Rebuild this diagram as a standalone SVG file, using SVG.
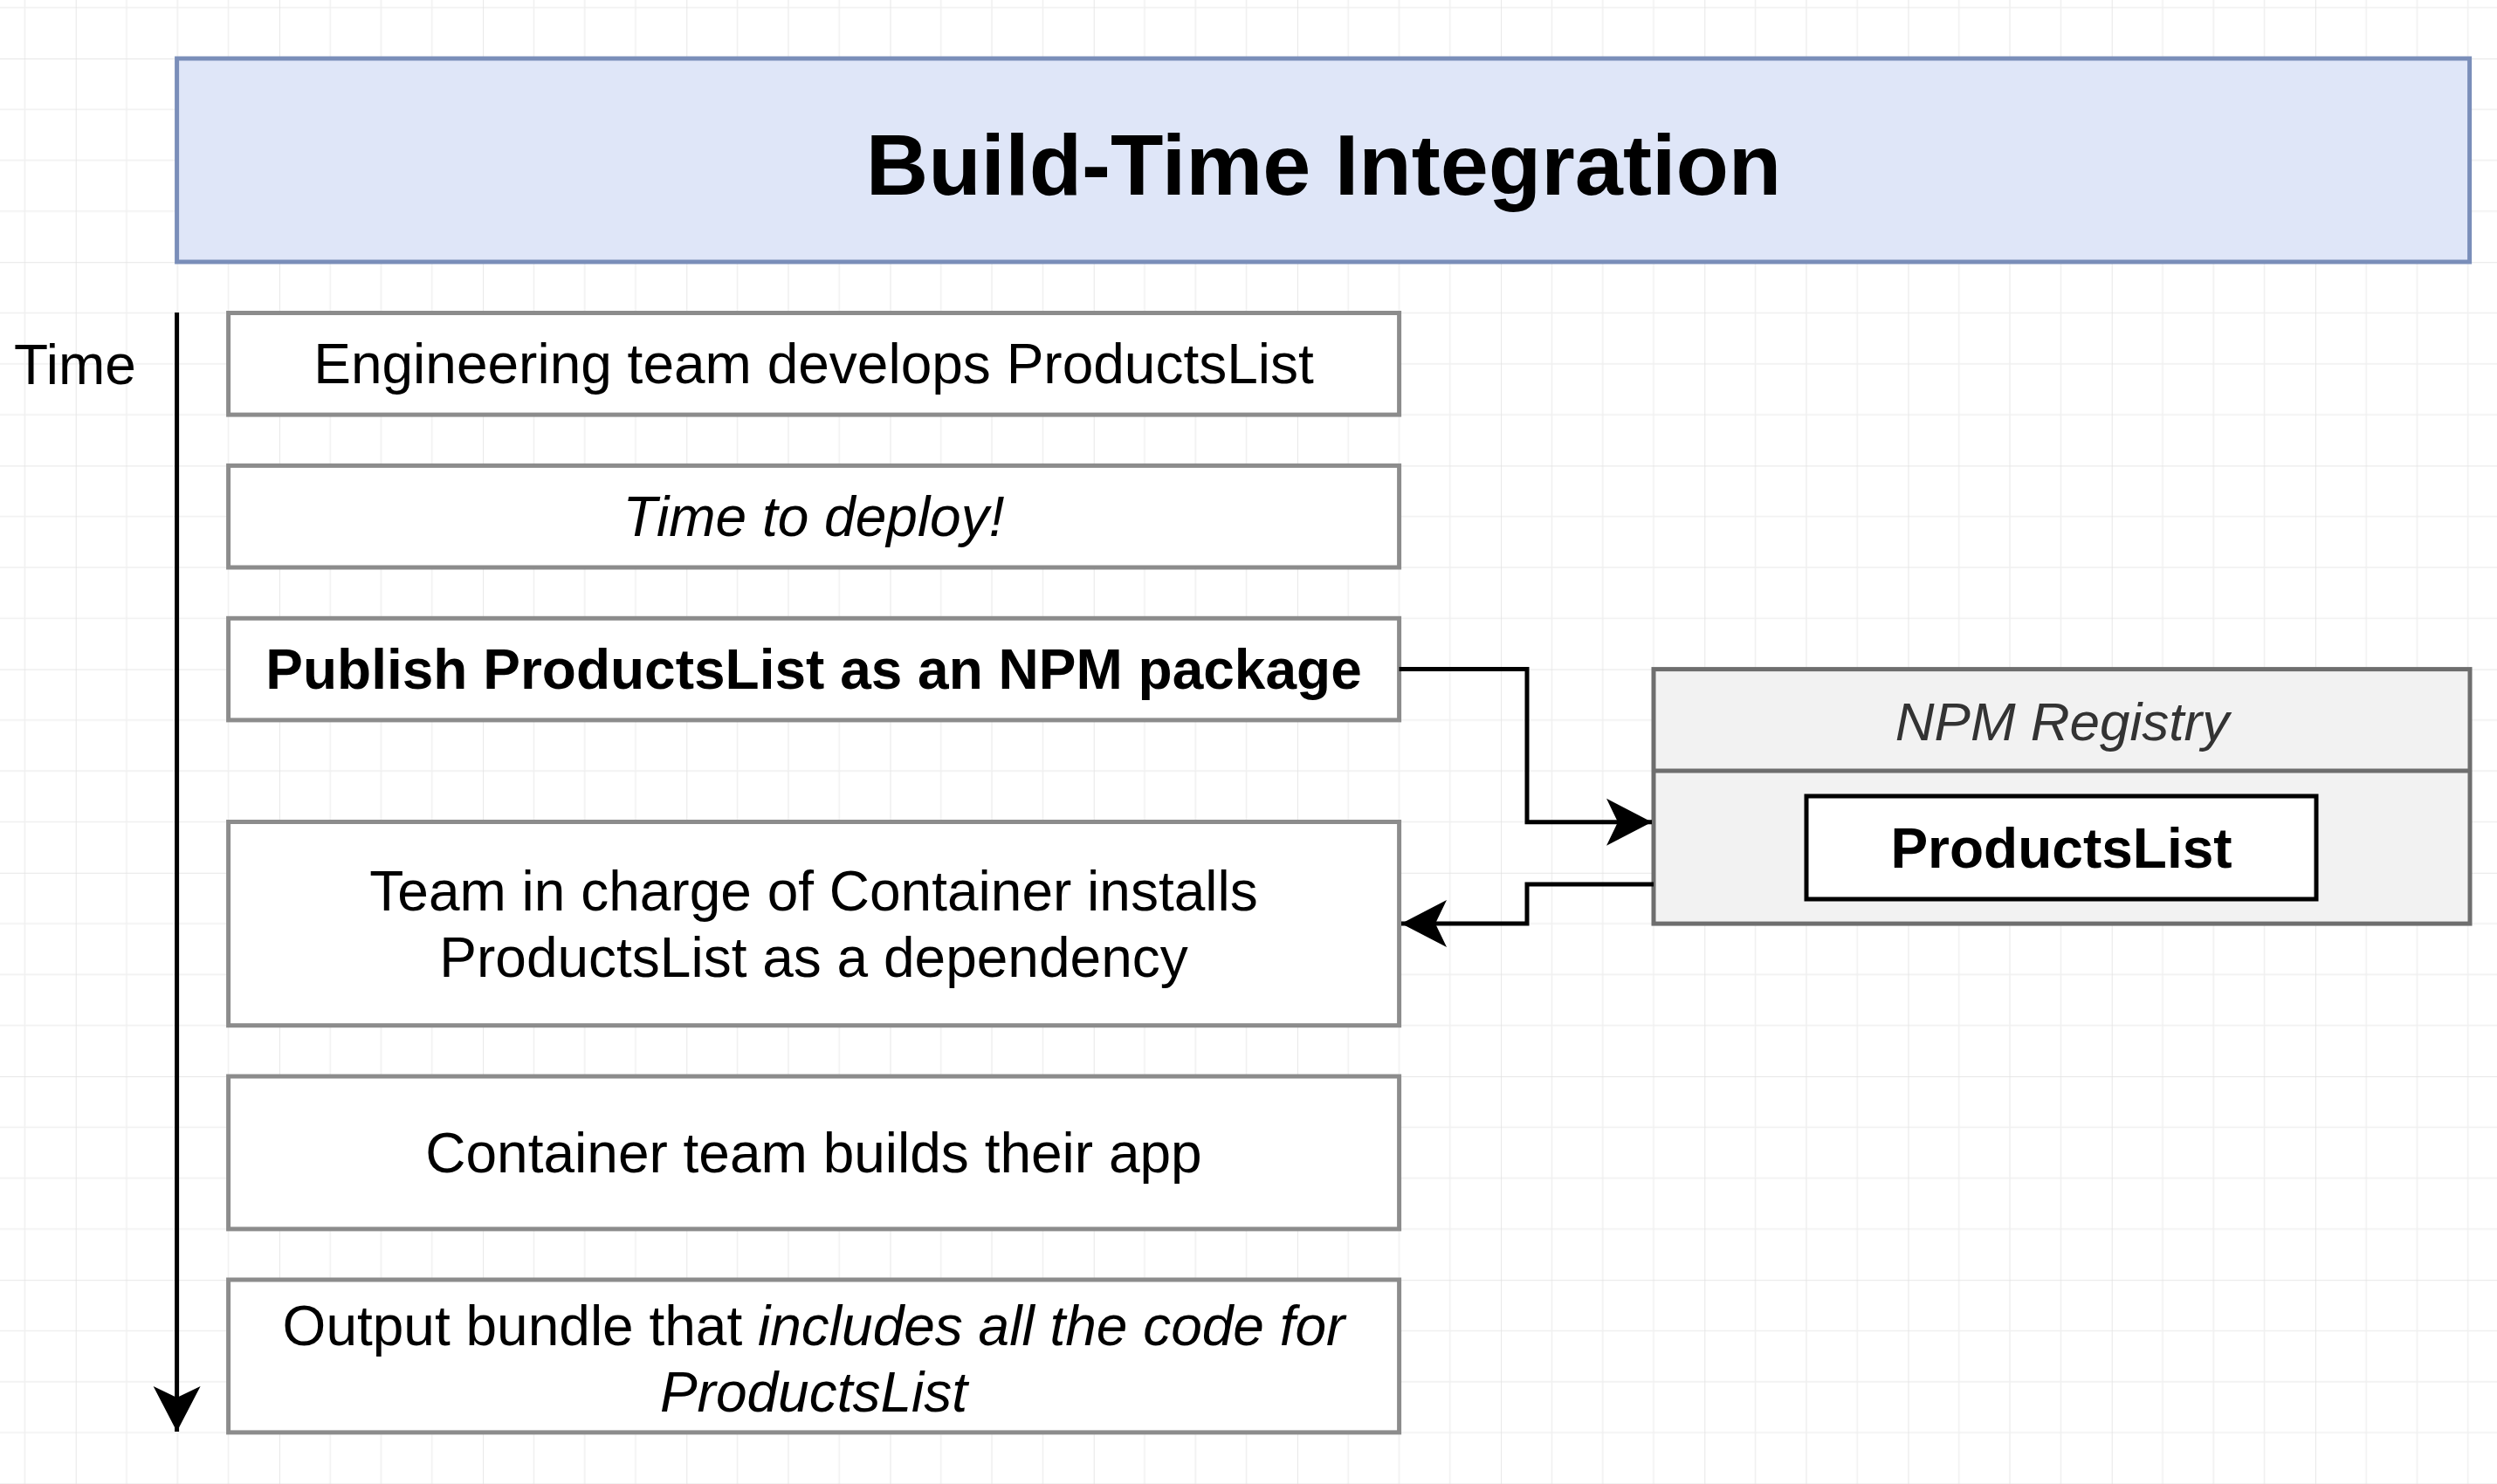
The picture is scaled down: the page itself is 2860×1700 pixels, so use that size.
<svg xmlns="http://www.w3.org/2000/svg" width="2860" height="1700" viewBox="0 0 2860 1700">
  <style>
    text { font-family: "Liberation Sans", Arial, Helvetica, sans-serif; fill: #000; text-anchor: middle; }
    .step { fill: #ffffff; stroke: #8c8c8c; stroke-width: 5; }
    .lbl { font-size: 64px; }
    .it { font-style: italic; }
    .bold { font-weight: bold; }
    .conn { fill: none; stroke: #000; stroke-width: 5; }
  </style>
  <defs>
    <pattern id="grid" patternUnits="userSpaceOnUse" x="86.7" y="67" width="233.2" height="233.2">
      <path d="M58.3 0V233.2M116.6 0V233.2M174.9 0V233.2M0 58.3H233.2M0 116.6H233.2M0 174.9H233.2" stroke="#f0f0f0" stroke-width="1.5" fill="none"/>
      <path d="M0 0V233.2M0 0H233.2" stroke="#e0e0e0" stroke-width="1.5" fill="none"/>
    </pattern>
    <marker id="arrow" markerUnits="userSpaceOnUse" markerWidth="56" markerHeight="58" refX="52" refY="28" orient="auto">
      <path d="M0,1 L52,28 L0,55 L13,28 Z" fill="#000"/>
    </marker>
  </defs>

  <rect x="0" y="0" width="2860" height="1700" fill="#ffffff"/>
  <rect x="0" y="0" width="2860" height="1700" fill="url(#grid)"/>

  <g id="title">
    <rect x="202.6" y="67" width="2626" height="233" fill="#dfe6f8" stroke="#7a8eb9" stroke-width="5"/>
    <text x="1516" y="223" font-size="99" font-weight="bold">Build-Time Integration</text>
  </g>

  <g id="time-axis">
    <text x="86" y="440" font-size="64">Time</text>
  </g>

  <g id="step1">
    <rect class="step" x="261.6" y="358.5" width="1341" height="116.6"/>
    <text class="lbl" x="932" y="439">Engineering team develops ProductsList</text>
  </g>

  <g id="step2">
    <rect class="step" x="261.6" y="533.4" width="1341" height="116.6"/>
    <text class="lbl it" x="932" y="614">Time to deploy!</text>
  </g>

  <g id="step3">
    <rect class="step" x="261.6" y="708.3" width="1341" height="116.6"/>
    <text class="lbl bold" x="932" y="789">Publish ProductsList as an NPM package</text>
  </g>

  <g id="step4">
    <rect class="step" x="261.6" y="941.5" width="1341" height="233.2"/>
    <text class="lbl" x="932" y="1043">Team in charge of Container installs</text>
    <text class="lbl" x="932" y="1119">ProductsList as a dependency</text>
  </g>

  <g id="step5">
    <rect class="step" x="261.6" y="1233" width="1341" height="174.9"/>
    <text class="lbl" x="932" y="1343">Container team builds their app</text>
  </g>

  <g id="step6">
    <rect class="step" x="261.6" y="1466" width="1341" height="174.9"/>
    <text class="lbl" x="932" y="1541">Output bundle that <tspan class="it">includes all the code for</tspan></text>
    <text class="lbl it" x="932" y="1617">ProductsList</text>
  </g>

  <g id="npm-registry">
    <rect x="1894" y="766.6" width="935" height="291.5" fill="#f2f2f2" stroke="#6e6e6e" stroke-width="5"/>
    <line x1="1894" y1="883" x2="2829" y2="883" stroke="#6e6e6e" stroke-width="5"/>
    <text x="2362" y="848" font-size="62" font-style="italic" style="fill:#333333">NPM Registry</text>
  </g>

  <g id="products-list">
    <rect x="2069" y="912" width="584" height="118" fill="#ffffff" stroke="#000" stroke-width="5"/>
    <text x="2361" y="994" font-size="64" font-weight="bold">ProductsList</text>
  </g>

  <g id="connectors">
    <path class="conn" d="M202.6 358 V1640" marker-end="url(#arrow)"/>
    <path class="conn" d="M1602.5 766.6 H1749 V941.7 H1892" marker-end="url(#arrow)"/>
    <path class="conn" d="M1894 1013 H1749 V1058 H1605" marker-end="url(#arrow)"/>
  </g>
</svg>
